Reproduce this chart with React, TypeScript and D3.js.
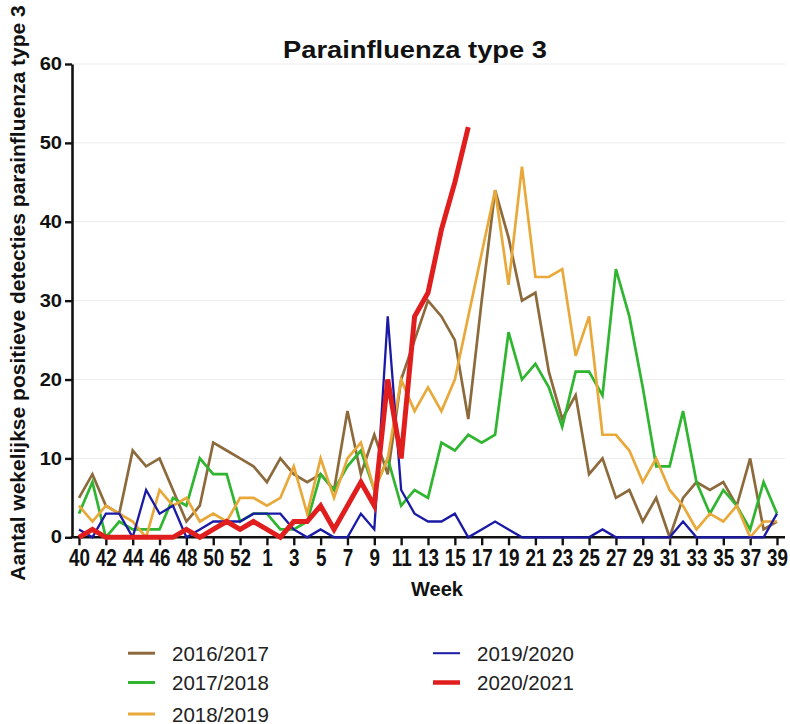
import React, { useEffect, useRef } from 'react';
import * as d3 from 'd3';

// Week axis: 40..53, then 1..39
const weeks: number[] = [40, 41, 42, 43, 44, 45, 46, 47, 48, 49, 50, 51, 52, 53,
  1, 2, 3, 4, 5, 6, 7, 8, 9, 10, 11, 12, 13, 14, 15, 16, 17, 18, 19, 20,
  21, 22, 23, 24, 25, 26, 27, 28, 29, 30, 31, 32, 33, 34, 35, 36, 37, 38, 39];
const tickWeeks: number[] = [40, 42, 44, 46, 48, 50, 52, 1, 3, 5, 7, 9, 11, 13, 15, 17, 19,
  21, 23, 25, 27, 29, 31, 33, 35, 37, 39];
const yTicks: number[] = [0, 10, 20, 30, 40, 50, 60];

const seasons: string[] = ['2016/2017', '2017/2018', '2018/2019', '2019/2020', '2020/2021'];
const colors: string[] = ['#8c6a3c', '#2fb52f', '#e9a93a', '#1a1aa6', '#e01e1e'];
const widths: number[] = [2.7, 2.7, 2.7, 2.3, 5];

const s1617: number[] = [5, 8, 4, 3, 11, 9, 10, 6, 2, 4, 12, 11, 10, 9,
  7, 10, 8, 7, 8, 6, 16, 8, 13, 8, 20, 25, 30, 28, 25, 15, 30, 44, 38, 30,
  31, 21, 15, 18, 8, 10, 5, 6, 2, 5, 0, 5, 7, 6, 7, 4, 10, 1, 2];
const s1718: number[] = [3, 7, 0, 2, 1, 1, 1, 5, 4, 10, 8, 8, 2, 3,
  3, 1, 1, 2, 8, 6, 9, 11, 6, 10, 4, 6, 5, 12, 11, 13, 12, 13, 26, 20,
  22, 19, 14, 21, 21, 18, 34, 28, 19, 9, 9, 16, 7, 3, 6, 4, 1, 7, 3];
const s1819: number[] = [4, 2, 4, 3, 2, 0, 6, 4, 5, 2, 3, 2, 5, 5,
  4, 5, 9, 3, 10, 5, 10, 12, 6, 10, 20, 16, 19, 16, 20, 28, 36, 44, 32, 47,
  33, 33, 34, 23, 28, 13, 13, 11, 7, 10, 6, 4, 1, 3, 2, 4, 0, 2, 2];
const s1920: number[] = [1, 0, 3, 3, 0, 6, 3, 4, 0, 1, 2, 2, 2, 3,
  3, 3, 1, 0, 1, 0, 0, 3, 1, 28, 6, 3, 2, 2, 3, 0, 1, 2, 1, 0,
  0, 0, 0, 0, 0, 1, 0, 0, 0, 0, 0, 2, 0, 0, 0, 0, 0, 0, 3];
const s2021: number[] = [0, 1, 0, 0, 0, 0, 0, 0, 1, 0, 1, 2, 1, 2,
  1, 0, 2, 2, 4, 1, 4, 7, 4, 20, 10, 28, 31, 39, 45, 52];

const seriesValues: number[][] = [s1617, s1718, s1819, s1920, s2021];

const FONT = '"Liberation Sans", Arial, Helvetica, sans-serif';

export default function App() {
  const ref = useRef<SVGSVGElement | null>(null);

  useEffect(() => {
    const svg = d3.select(ref.current);
    svg.selectAll('*').remove();

    const x = d3.scaleLinear().domain([0, weeks.length - 1]).range([79, 777]);
    const y = d3.scaleLinear().domain([0, 60]).range([537.3, 64]);
    const axisLeftX = 72;
    const axisRightX = 785;

    // gridlines
    svg.append('g')
      .selectAll('line')
      .data(yTicks.filter((t) => t > 0))
      .join('line')
      .attr('x1', axisLeftX)
      .attr('x2', axisRightX)
      .attr('y1', (d) => y(d))
      .attr('y2', (d) => y(d))
      .attr('stroke', '#ececec')
      .attr('stroke-width', 1);

    // y axis
    const ySx = 1.15;
    const yAxis = d3.axisLeft(y).tickValues(yTicks).tickSize(7).tickSizeOuter(0).tickPadding(3)
      .tickFormat((d) => String(d));
    const gy = svg.append('g').attr('transform', `translate(${axisLeftX},0)`).call(yAxis);
    gy.select('.domain').attr('stroke', '#111').attr('stroke-width', 2.6);
    gy.selectAll('.tick line').attr('stroke', '#111').attr('stroke-width', 2.4);
    gy.selectAll('.tick text')
      .attr('x', -10 / ySx)
      .attr('transform', `scale(${ySx},1)`)
      .attr('font-family', FONT)
      .attr('font-weight', 'bold')
      .attr('font-size', 17.5)
      .attr('fill', '#111');

    // x axis
    const tickIdx = tickWeeks.map((w) => weeks.indexOf(w));
    const xAxis = d3.axisBottom(x).tickValues(tickIdx).tickSize(8).tickSizeOuter(0).tickPadding(4)
      .tickFormat((i) => String(weeks[i as number]));
    const gx = svg.append('g').attr('transform', `translate(0,${y(0)})`).call(xAxis);
    gx.select('.domain').remove();
    gx.append('line')
      .attr('x1', axisLeftX - 1.3)
      .attr('x2', axisRightX)
      .attr('y1', 0)
      .attr('y2', 0)
      .attr('stroke', '#111')
      .attr('stroke-width', 2.6);
    gx.selectAll('.tick line').attr('stroke', '#111').attr('stroke-width', 2.4);
    gx.selectAll('.tick text')
      .attr('y', 0)
      .attr('dy', 0)
      .attr('transform', 'translate(0,28.7) scale(0.82,1)')
      .attr('font-family', FONT)
      .attr('font-weight', 'bold')
      .attr('font-size', 23)
      .attr('fill', '#111');

    // lines
    const line = d3.line<number>().x((_, i) => x(i)).y((d) => y(d));
    svg.append('g')
      .selectAll('path')
      .data(seriesValues)
      .join('path')
      .attr('d', (d) => line(d))
      .attr('fill', 'none')
      .attr('stroke', (_, i) => colors[i])
      .attr('stroke-width', (_, i) => widths[i])
      .attr('stroke-linejoin', 'miter');

    // title
    svg.append('text')
      .attr('x', 415)
      .attr('y', 58.3)
      .attr('text-anchor', 'middle')
      .attr('font-family', FONT)
      .attr('font-weight', 'bold')
      .attr('font-size', 23)
      .attr('textLength', 264)
      .attr('lengthAdjust', 'spacingAndGlyphs')
      .attr('fill', '#111')
      .text('Parainfluenza type 3');

    // y label
    svg.append('text')
      .attr('transform', 'translate(25,293) rotate(-90)')
      .attr('text-anchor', 'middle')
      .attr('font-family', FONT)
      .attr('font-weight', 'bold')
      .attr('font-size', 21)
      .attr('fill', '#111')
      .text('Aantal wekelijkse positieve detecties parainfluenza type 3');

    // x label
    svg.append('text')
      .attr('x', 437)
      .attr('y', 596)
      .attr('text-anchor', 'middle')
      .attr('font-family', FONT)
      .attr('font-weight', 'bold')
      .attr('font-size', 20)
      .attr('fill', '#111')
      .text('Week');

    // legend
    const legendPos = [
      { lx: 128, ty: 660.7 },
      { lx: 128, ty: 690 },
      { lx: 128, ty: 721.5 },
      { lx: 433, ty: 660.7 },
      { lx: 433, ty: 690 },
    ];
    const lg = svg.append('g');
    seasons.forEach((s, i) => {
      const p = legendPos[i];
      lg.append('line')
        .attr('x1', p.lx)
        .attr('x2', p.lx + 27)
        .attr('y1', p.ty - 7.5)
        .attr('y2', p.ty - 7.5)
        .attr('stroke', colors[i])
        .attr('stroke-width', i === 4 ? 4.5 : i === 3 ? 2 : 3);
      lg.append('text')
        .attr('x', p.lx + 44)
        .attr('y', p.ty)
        .attr('font-family', FONT)
        .attr('font-size', 20.5)
        .attr('fill', '#222')
        .text(s);
    });
  }, []);

  return (
    <svg
      ref={ref}
      width={790}
      height={724}
      style={{ position: 'absolute', left: 0, top: 0, background: '#fff' }}
    />
  );
}
